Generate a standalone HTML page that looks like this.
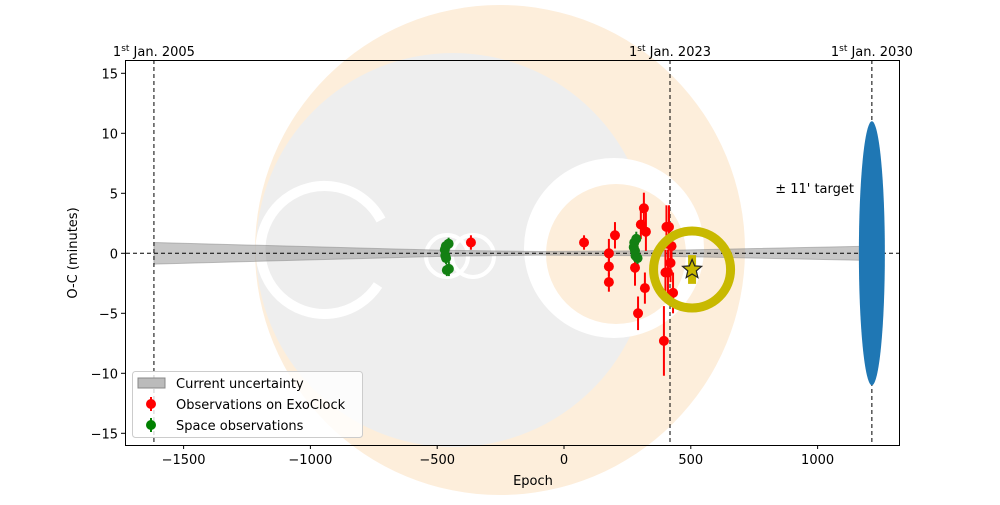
<!DOCTYPE html>
<html><head><meta charset="utf-8"><style>
body{margin:0;background:#fff;}
svg text{font-family:"DejaVu Sans","Liberation Sans",sans-serif;}
</style></head><body>
<svg id="chart" width="1000" height="500" xmlns="http://www.w3.org/2000/svg">
<g>
<circle cx="500" cy="250" r="245" fill="#fdeedb"/>
<circle cx="453" cy="250" r="197" fill="#eeeeee"/>
<path d="M 381 220 A 64 64 0 1 0 378 285" fill="none" stroke="#fff" stroke-width="10"/>
<circle cx="447" cy="256" r="21" fill="none" stroke="#fff" stroke-width="4"/>
<circle cx="473" cy="256" r="21" fill="none" stroke="#fff" stroke-width="4"/>
<circle cx="614" cy="248" r="90" fill="#fff"/>
<circle cx="616" cy="254" r="70" fill="#fdeedb"/>
</g>
<g id="plot"></g>
<rect x="125.5" y="60.5" width="774" height="385" fill="none" stroke="#000" stroke-width="1"/>
<g id="axes"></g>
<text x="533" y="485" font-size="13" text-anchor="middle">Epoch</text>
<text transform="translate(77,253) rotate(-90)" font-size="13" text-anchor="middle">O-C (minutes)</text>
<text x="854" y="193" font-size="13" text-anchor="end">± 11' target</text>
<g>
<rect x="132.5" y="371.5" width="230" height="66" rx="3" fill="#fff" fill-opacity="0.8" stroke="#ccc"/>
<rect x="138" y="378" width="27" height="10" fill="#bbb" stroke="#888"/>
<text x="176" y="388" font-size="13">Current uncertainty</text>
<line x1="151" y1="397" x2="151" y2="411" stroke="red" stroke-width="2"/><circle cx="151" cy="404" r="5" fill="red"/>
<text x="176" y="409" font-size="13">Observations on ExoClock</text>
<line x1="151" y1="418" x2="151" y2="432" stroke="green" stroke-width="2"/><circle cx="151" cy="425" r="5" fill="green"/>
<text x="176" y="430" font-size="13">Space observations</text>
</g>
</svg>
<script>
const xTicks=[-1500,-1000,-500,0,500,1000];
const yTicks=[-15,-10,-5,0,5,10,15];
const bandEpochs=[-1617,-470,-100,300,1214];
const bandHalfWidth=[0.9,0.25,0.15,0.2,0.6];
const redEpoch=[-367,79,177,177,177,201,280,292,303,315,319,323,394,400,404,410,414,420,424,430];
const redOC=[0.9,0.9,0,-1.1,-2.4,1.5,-1.2,-5.0,2.4,3.75,-2.9,1.8,-7.3,-1.6,2.2,-1.6,2.2,-0.8,0.6,-3.3];
const redErr=[0.6,0.6,1.2,0.8,0.8,1.1,1.5,1.4,1.2,1.3,1.3,1.6,2.9,1.9,1.8,1.9,1.8,1.6,1.2,1.7];
const greenEpoch=[-470,-468,-466,-465,-462,-455,-454,275,277,280,282,285,290];
const greenOC=[0.3,-0.2,0.6,-0.4,-1.4,0.8,-1.3,0.5,0.9,0.2,-0.2,1.2,-0.4];
const greenErr=[0.5,0.5,0.5,0.5,0.5,0.5,0.6,0.5,0.5,0.5,0.5,0.6,0.5];
const vlineEpochs=[-1617,418,1214];
const vlineLabels=["2005","2023","2030"];
const targetEpoch=1214, targetOC=0, targetErr=11;
const predEpoch=[505], predOC=[-1.35];
const X=v=>564+v*0.2536, Y=v=>253.3-v*12;
const NS="http://www.w3.org/2000/svg";
const plot=document.getElementById('plot'),axes=document.getElementById('axes');
function mk(tag,at,parent){const e=document.createElementNS(NS,tag);for(const k in at)e.setAttribute(k,at[k]);parent.appendChild(e);return e;}
let pts=[];
bandEpochs.forEach((e,i)=>pts.push(X(e)+','+Y(bandHalfWidth[i])));
for(let i=bandEpochs.length-1;i>=0;i--)pts.push(X(bandEpochs[i])+','+Y(-bandHalfWidth[i]));
const band=mk('polygon',{points:pts.join(' '),fill:'#999','fill-opacity':0.55,stroke:'#888','stroke-opacity':0.5},plot);


const zl=mk('line',{x1:126,x2:900,y1:Y(0),y2:Y(0),stroke:'#000','stroke-dasharray':'4,3'},plot);


vlineEpochs.forEach((e,i)=>{
 const l=mk('line',{x1:X(e),x2:X(e),y1:60,y2:445,stroke:'#000','stroke-dasharray':'4,3'},plot);
 
 
 const t=mk('text',{x:X(e),y:56,'font-size':13,'text-anchor':'middle'},axes);
 
 
 t.innerHTML='1<tspan font-size="9" dy="-5">st</tspan><tspan dy="5"> Jan. '+vlineLabels[i]+'</tspan>';
});
const ell=mk('ellipse',{cx:X(targetEpoch),cy:Y(targetOC),rx:13,ry:targetErr*12,fill:'#1f77b4'},plot);


function series(ex,oc,er,col,name){
 ex.forEach((e,i)=>{
  const g=mk('g',{},plot);
  
  
  mk('line',{x1:X(e),x2:X(e),y1:Y(oc[i]+er[i]),y2:Y(oc[i]-er[i]),stroke:col,'stroke-width':2},g);
  mk('circle',{cx:X(e),cy:Y(oc[i]),r:5,fill:col},g);
 });
}
series(redEpoch,redOC,redErr,'#ff0000','exoclock');
series(greenEpoch,greenOC,greenErr,'#138013','space');
const ring=mk('circle',{cx:X(predEpoch[0]),cy:Y(predOC[0]),r:38.5,fill:'none',stroke:'#c8b900','stroke-width':9},plot);


mk('line',{x1:X(predEpoch[0]),x2:X(predEpoch[0]),y1:Y(predOC[0]+1.2),y2:Y(predOC[0]-1.2),stroke:'#c8b900','stroke-width':8},plot);
const cx=X(predEpoch[0]),cy=Y(predOC[0]);let sp=[];
for(let i=0;i<10;i++){const r=i%2?4.5:10,a=-Math.PI/2+i*Math.PI/5;sp.push((cx+r*Math.cos(a)).toFixed(1)+','+(cy+r*Math.sin(a)).toFixed(1));}
const star=mk('polygon',{points:sp.join(' '),fill:'#c8b900',stroke:'#222','stroke-width':1.2},plot);


xTicks.forEach(v=>{
 mk('line',{x1:X(v),x2:X(v),y1:445,y2:449,stroke:'#000'},axes);
 const t=mk('text',{x:X(v),y:464,'font-size':13,'text-anchor':'middle'},axes);
 
 
 t.textContent=v<0?'\u2212'+(-v):v;
});
yTicks.forEach(v=>{
 mk('line',{x1:121,x2:125,y1:Y(v),y2:Y(v),stroke:'#000'},axes);
 const t=mk('text',{x:118,y:Y(v)+5,'font-size':13,'text-anchor':'end'},axes);
 
 
 t.textContent=v<0?'\u2212'+(-v):v;
});
</script>
</body></html>
